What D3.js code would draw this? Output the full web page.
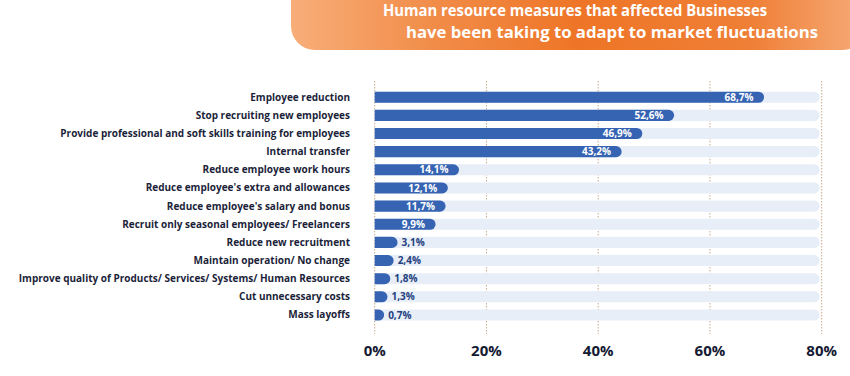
<!DOCTYPE html>
<html>
<head>
<meta charset="utf-8">
<script src="https://cdn.jsdelivr.net/npm/d3@7"></script>
<style>
  body { margin: 0; background: #fff; }
  text { font-family: "Open Sans", sans-serif; }
</style>
</head>
<body>
<div id="chart"></div>
<script>
// Chart data
const categories = [
  "Employee reduction",
  "Stop recruiting new employees",
  "Provide professional and soft skills training for employees",
  "Internal transfer",
  "Reduce employee work hours",
  "Reduce employee's extra and allowances",
  "Reduce employee's salary and bonus",
  "Recruit only seasonal employees/ Freelancers",
  "Reduce new recruitment",
  "Maintain operation/ No change",
  "Improve quality of Products/ Services/ Systems/ Human Resources",
  "Cut unnecessary costs",
  "Mass layoffs"
];
const values = [68.7, 52.6, 46.9, 43.2, 14.1, 12.1, 11.7, 9.9, 3.1, 2.4, 1.8, 1.3, 0.7];
const tickValues = [0, 20, 40, 60, 80];
const titleLines = [
  "Human resource measures that affected Businesses",
  "have been taking to adapt to market fluctuations"
];

const W = 850, H = 376;
const svg = d3.select("#chart")
  .append("svg")
    .attr("width", W)
    .attr("height", H);

// Title banner
const defs = svg.append("defs");
const grad = defs.append("linearGradient")
    .attr("id", "banner")
    .attr("x1", "0%").attr("x2", "100%")
    .attr("y1", "0%").attr("y2", "0%");
grad.append("stop").attr("offset", "0%").attr("stop-color", "#f8ae79");
grad.append("stop").attr("offset", "25%").attr("stop-color", "#f18c48");
grad.append("stop").attr("offset", "50%").attr("stop-color", "#ee7527");
grad.append("stop").attr("offset", "80%").attr("stop-color", "#ef7f36");
grad.append("stop").attr("offset", "100%").attr("stop-color", "#f6ab78");

svg.append("rect")
    .attr("x", 291).attr("y", -40)
    .attr("width", 575).attr("height", 90)
    .attr("rx", 24)
    .attr("fill", "url(#banner)");

const titleLen = [384, 412];
svg.selectAll(".title")
  .data(titleLines)
  .join("text")
    .attr("class", "title")
    .attr("x", (d, i) => i === 0 ? 767 : 818)
    .attr("y", (d, i) => 16 + i * 21.5)
    .attr("text-anchor", "end")
    .attr("fill", "#fff")
    .attr("textLength", (d, i) => titleLen[i])
    .attr("lengthAdjust", "spacingAndGlyphs")
    .style("font-size", "15.5px")
    .style("font-weight", 700)
    .text(d => d);

// Scales
const x = d3.scaleLinear()
  .domain([0, 80])
  .range([374.7, 821.7]);

const y = d3.scaleBand()
  .domain(categories)
  .range([84.6, 327.6])
  .padding(0.39);

const bh = y.bandwidth();
const r = bh / 2;

// Dotted grid lines
svg.append("g")
  .selectAll("line")
  .data(tickValues)
  .join("line")
    .attr("x1", d => x(d)).attr("x2", d => x(d))
    .attr("y1", 81).attr("y2", 334)
    .attr("stroke", "#c9a98a")
    .attr("stroke-width", 1)
    .attr("stroke-dasharray", "1.5,1.5");

// Tick labels
svg.append("g")
  .selectAll("text")
  .data(tickValues)
  .join("text")
    .attr("x", d => x(d))
    .attr("y", 356)
    .attr("text-anchor", "middle")
    .attr("fill", "#151a33")
    .style("font-size", "15px")
    .style("font-weight", 700)
    .text(d => d + "%");

// Rounded-end bar path: flat start at x0, round cap beyond x1
function capBar(x0, x1, yTop) {
  return `M${x0},${yTop}H${x1}A${r},${r} 0 0 1 ${x1},${yTop + bh}H${x0}Z`;
}

const data = categories.map((c, i) => ({cat: c, val: values[i]}));

// Background tracks
svg.append("g")
  .selectAll("path")
  .data(data)
  .join("path")
    .attr("d", d => capBar(x(0), x(80) - 2 - r, y(d.cat)))
    .attr("fill", "#e7eef8");

// Bars
svg.append("g")
  .selectAll("path")
  .data(data)
  .join("path")
    .attr("d", d => capBar(x(0), x(d.val), y(d.cat)))
    .attr("fill", "#3664b2");

// Category labels
svg.append("g")
  .selectAll("text")
  .data(data)
  .join("text")
    .attr("x", 350)
    .attr("y", d => y(d.cat) + bh / 2)
    .attr("dy", "0.35em")
    .attr("text-anchor", "end")
    .attr("fill", "#1c1f3a")
    .style("font-size", "10px")
    .style("font-weight", 700)
    .text(d => d.cat);

// Value labels
const fmt = v => d3.format(".1f")(v).replace(".", ",") + "%";
svg.append("g")
  .selectAll("text")
  .data(data)
  .join("text")
    .attr("x", d => d.val > 5 ? x(d.val) - 5 : x(d.val) + r + 4)
    .attr("y", d => y(d.cat) + bh / 2)
    .attr("dy", "0.36em")
    .attr("text-anchor", d => d.val > 5 ? "end" : "start")
    .attr("fill", d => d.val > 5 ? "#fff" : "#24407e")
    .style("font-size", "10px")
    .style("font-weight", 700)
    .text(d => fmt(d.val));
</script>
</body>
</html>
